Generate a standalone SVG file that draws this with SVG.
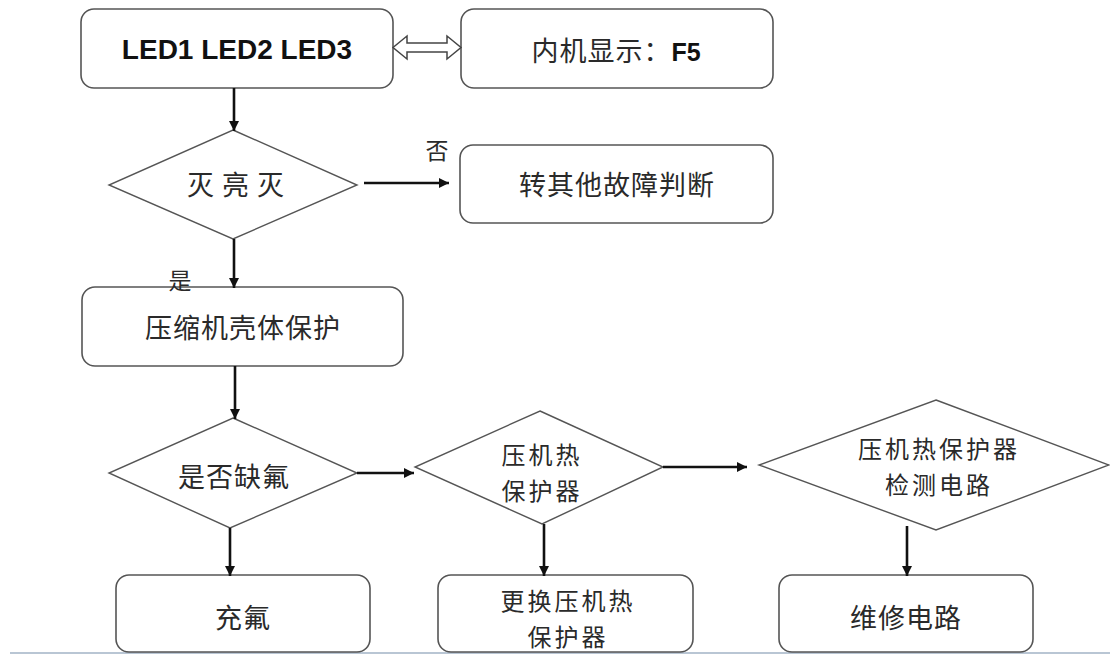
<svg xmlns="http://www.w3.org/2000/svg" width="1110" height="654" viewBox="0 0 1110 654">
<style>
.box{fill:#fff;stroke:#555;stroke-width:1.6}
.dia{fill:#fff;stroke:#555;stroke-width:1.4}
.t{font-family:"Noto Sans CJK SC","Liberation Sans",sans-serif;font-size:27px;fill:#2a2a2a;text-anchor:middle;letter-spacing:1px}
.t2{font-family:"Noto Sans CJK SC","Liberation Sans",sans-serif;font-size:24px;fill:#2a2a2a;text-anchor:middle;letter-spacing:3px}
.b{font-family:"Liberation Sans",Arial,sans-serif;font-weight:bold;fill:#111}
.lbl{font-family:"Noto Sans CJK SC",sans-serif;font-size:23px;fill:#2a2a2a;text-anchor:middle}
.c{stroke:#111;stroke-width:2.6;fill:none;marker-end:url(#ah)}
</style>
<defs>
<marker id="ah" viewBox="0 0 10 10" refX="10" refY="5" markerWidth="4" markerHeight="4" orient="auto" markerUnits="strokeWidth">
<path d="M0,0 L10,5 L0,10 z" fill="#111"/>
</marker>
</defs>
<rect width="1110" height="654" fill="#fff"/>
<line x1="10" y1="653" x2="1110" y2="653" stroke="#b9c6d4" stroke-width="2"/>

<g id="n-led"><rect class="box" x="81" y="9" width="312" height="79" rx="13"/><text class="b" x="237" y="59" font-size="28" text-anchor="middle">LED1 LED2 LED3</text></g>
<g id="n-display"><rect class="box" x="461" y="9" width="312" height="79" rx="13"/><text class="t" x="616" y="61">内机显示：<tspan class="b" font-size="25" letter-spacing="0">F5</tspan></text></g>
<g id="n-d1"><polygon class="dia" points="233,130 357,185 233,239 109,185"/><text class="t" x="236" y="195" letter-spacing="4">灭 亮 灭</text></g>
<g id="n-other"><rect class="box" x="460" y="145" width="313" height="78" rx="13"/><text class="t" x="617" y="195">转其他故障判断</text></g>
<g id="n-shell"><rect class="box" x="82" y="287" width="321" height="79" rx="13"/><text class="t" x="243" y="338">压缩机壳体保护</text></g>
<g id="n-d2"><polygon class="dia" points="233,418 357,473 230,528 109,473"/><text class="t" x="234" y="487">是否缺氟</text></g>
<g id="n-d3"><polygon class="dia" points="540,411 663,467 542,524 415,467"/><text class="t2"><tspan x="542" y="464">压机热</tspan><tspan x="542" y="500">保护器</tspan></text></g>
<g id="n-d4"><polygon class="dia" points="936,400 1109,465 936,530 759,465"/><text class="t2"><tspan x="939" y="458">压机热保护器</tspan><tspan x="939" y="494">检测电路</tspan></text></g>
<g id="n-charge"><rect class="box" x="116" y="575" width="254" height="77" rx="13"/><text class="t" x="243" y="628">充氟</text></g>
<g id="n-replace"><rect class="box" x="438" y="575" width="255" height="77" rx="13"/><text class="t2"><tspan x="568" y="610">更换压机热</tspan><tspan x="568" y="646">保护器</tspan></text></g>
<g id="n-repair"><rect class="box" x="779" y="575" width="254" height="77" rx="13"/><text class="t" x="906" y="628">维修电路</text></g>

<g id="connectors">
<polygon points="393,47.5 407,36 407,43 447,43 447,36 461,47.5 447,59 447,52 407,52 407,59" fill="#fff" stroke="#444" stroke-width="1.5"/>
<line class="c" x1="234" y1="88" x2="234" y2="131"/>
<line class="c" x1="364" y1="183" x2="449" y2="183"/>
<text class="lbl" x="437" y="159">否</text>
<line class="c" x1="234" y1="239" x2="234" y2="288"/>
<text class="lbl" x="180" y="289">是</text>
<line class="c" x1="235" y1="366" x2="235" y2="419"/>
<line class="c" x1="357" y1="473" x2="414" y2="473"/>
<line class="c" x1="230" y1="528" x2="230" y2="576"/>
<line class="c" x1="663" y1="467" x2="747" y2="467"/>
<line class="c" x1="544" y1="524" x2="544" y2="576"/>
<line class="c" x1="907" y1="526" x2="907" y2="576"/>
</g>
</svg>
